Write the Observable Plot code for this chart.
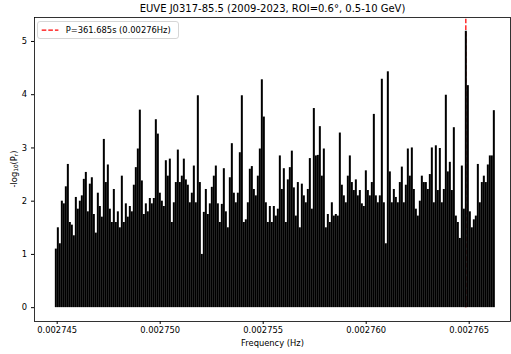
<!DOCTYPE html>
<html><head><meta charset="utf-8">
<script src="https://cdn.jsdelivr.net/npm/d3@7"></script>
<script src="https://cdn.jsdelivr.net/npm/@observablehq/plot@0.6"></script>
<style>
html,body{margin:0;padding:0;background:#fff;}
svg{font-family:"DejaVu Sans",sans-serif;}
</style></head><body><div id="chart"></div>
<script>
// ---- data ----
const title = "EUVE J0317-85.5 (2009-2023, ROI=0.6°, 0.5-10 GeV)";
const xLabel = "Frequency (Hz)";
const periodSec = 361.685;
const legendLabel = "P=361.685s (0.00276Hz)";
const xTicks = [0.002745, 0.002750, 0.002755, 0.002760, 0.002765];
const yTicks = [0, 1, 2, 3, 4, 5];
// frequency grid of the periodogram (start, step)
const freqStart = 0.0027449340;
const freqStep = 9.7087e-8;
// -log10(P), one value per grid step
const power = [
 1.1,1.5,1.2,2.0,1.95,2.27,2.69,1.6,1.55,1.35,
 2.07,1.85,2.0,2.1,2.41,2.54,1.8,2.32,2.44,1.75,
 1.4,2.15,1.9,1.7,3.16,2.35,2.68,1.85,1.6,2.22,
 1.6,1.8,1.5,2.47,1.6,1.95,1.7,1.9,1.8,2.3,
 2.63,2.98,3.71,2.38,1.75,1.95,1.8,2.05,1.95,2.05,
 3.53,3.26,2.15,2.0,1.9,2.76,2.47,2.79,1.6,1.97,
 2.35,2.96,2.35,2.47,2.79,2.4,2.3,1.97,2.15,2.66,
 1.97,3.98,2.35,1.0,1.79,2.22,1.75,1.95,2.26,2.47,
 2.66,1.95,1.6,1.94,2.61,1.8,1.5,2.44,3.08,2.15,
 1.97,2.15,2.91,3.98,1.6,1.65,1.97,2.6,2.65,2.22,
 2.1,2.47,2.98,4.28,3.58,1.97,1.6,1.9,1.6,1.9,
 1.72,1.85,2.85,2.22,2.61,1.6,2.4,2.63,2.94,2.25,
 1.72,2.35,1.5,2.32,2.1,1.97,2.22,2.8,1.85,3.74,
 2.85,2.86,3.4,2.47,2.98,1.5,1.75,1.6,1.97,1.72,
 1.75,1.72,3.28,2.3,2.1,1.97,2.47,2.85,2.35,2.2,
 2.4,2.1,2.2,1.95,1.9,2.57,2.2,2.1,2.35,3.63,
 2.1,1.97,2.1,4.29,1.97,1.2,4.43,2.55,1.97,2.22,
 2.07,1.97,2.35,2.64,1.97,2.3,2.98,2.47,3.0,2.22,
 1.85,1.72,2.0,2.47,2.35,2.35,2.22,2.5,3.0,1.97,
 3.04,2.2,2.99,1.97,2.22,3.99,2.55,2.73,2.2,3.38,
 1.72,1.6,1.3,2.66,1.85,5.19,4.17,1.8,1.5,1.65,
 1.72,2.69,1.97,2.35,2.47,2.35,2.68,2.85,2.85,3.7
];
const yTop = 5.45, yBottom = -0.26;
// ---- chart ----
const data = power.map((p, i) => ({f: freqStart + i * freqStep, p}));
const chart = Plot.plot({
  width: 511, height: 354,
  marginLeft: 34, marginRight: 1, marginTop: 17, marginBottom: 33,
  style: {fontFamily: "DejaVu Sans, sans-serif", fontSize: "8.33px", color: "#000", background: "#fff", overflow: "visible"},
  x: {domain: [0.0027438981, 0.0027670050]},
  y: {domain: [yBottom, yTop]},
  marks: [
    Plot.ruleX([1 / periodSec], {y1: 0, y2: yTop, stroke: "#ff0000", strokeWidth: 1.25, strokeDasharray: "4.6,2"}),
    Plot.ruleX(data, {x: "f", y1: 0, y2: "p", stroke: "#000", strokeWidth: 2}),
    Plot.frame({stroke: "#000", strokeWidth: 0.8}),
    Plot.axisX({ticks: xTicks, tickFormat: d => d.toFixed(6), tickSize: 3, tickPadding: 3, label: null}),
    Plot.axisY({ticks: yTicks, tickFormat: d => String(d), tickSize: 3, tickPadding: 4.5, label: null}),
    Plot.text([title], {frameAnchor: "top", dy: -9, fontSize: 10, lineAnchor: "middle"}),
    Plot.text([xLabel], {frameAnchor: "bottom", dy: 22, fontSize: 8.33, lineAnchor: "middle"})
  ]
});
document.getElementById("chart").appendChild(chart);

// y-axis label with subscripts
const svg = d3.select(chart);
const yl = svg.append("text")
  .attr("transform", "translate(16.5,169) rotate(-90)")
  .attr("text-anchor", "middle")
  .attr("font-size", 8.33)
  .attr("fill", "#000");
yl.append("tspan").text("-log");
yl.append("tspan").attr("font-size", 5.8).attr("dy", 1.6).text("10");
yl.append("tspan").attr("dy", -1.6).text("(P");
yl.append("tspan").attr("font-size", 5.8).attr("dy", 1.6).text("r");
yl.append("tspan").attr("dy", -1.6).text(")");

// legend
const lg = svg.append("g").attr("text-anchor", "start");
lg.append("rect").attr("x", 37.5).attr("y", 21.5).attr("width", 141).attr("height", 17)
  .attr("rx", 2.5).attr("fill", "#fff").attr("fill-opacity", 0.8)
  .attr("stroke", "#cccccc").attr("stroke-width", 0.8);
lg.append("line").attr("x1", 41.7).attr("x2", 58.4).attr("y1", 30).attr("y2", 30)
  .attr("stroke", "#ff0000").attr("stroke-width", 1.25).attr("stroke-dasharray", "4.6,2");
lg.append("text").attr("x", 65.7).attr("y", 30).attr("dy", "0.35em")
  .attr("text-anchor", "start")
  .attr("font-size", 8.33).attr("fill", "#000").text(legendLabel);
</script></body></html>
